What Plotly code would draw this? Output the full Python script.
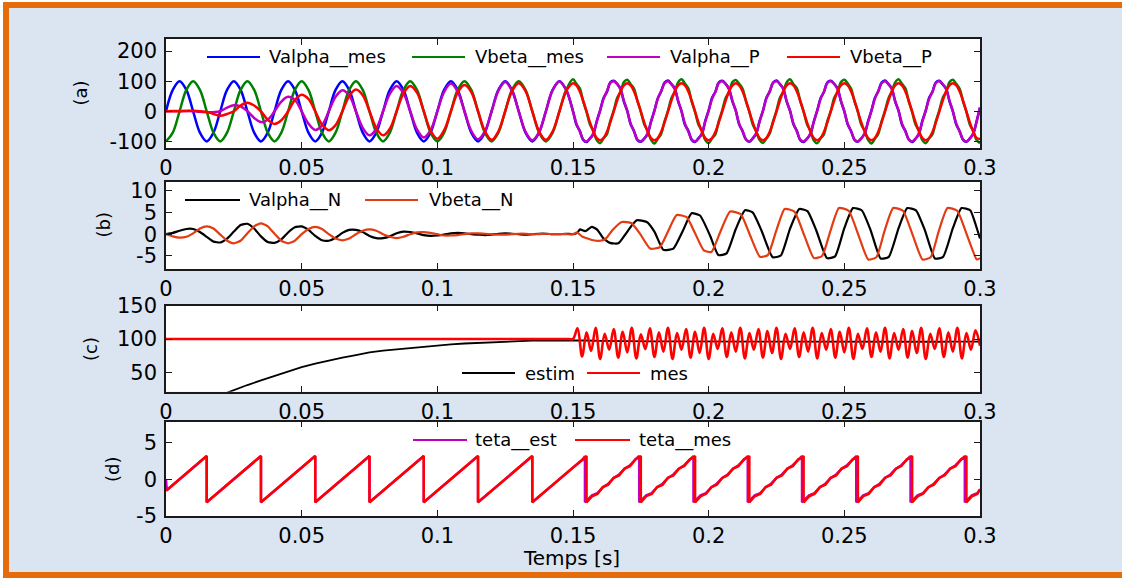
import numpy as np
import plotly.graph_objects as go

W, H = 1122, 578

# ===================== DATA =====================
# ---- panel (a) : 0 .. 0.1475 s every 2.5 ms, then 0.15 .. 0.3 s every 1.25 ms
dt_a1 = 0.0025
dt_a2 = 0.00125
t_a2_start = 0.15

valpha_mes_1 = [0, 71, 100, 71, 0, -71, -100, -71,
                0, 71, 100, 71, 0, -71, -100, -71,
                0, 71, 100, 71, 0, -71, -100, -71,
                0, 71, 100, 71, 0, -71, -100, -71,
                0, 71, 100, 71, 0, -71, -100, -71,
                0, 71, 100, 71, 0, -71, -100, -71,
                0, 71, 100, 71, 0, -71, -100, -71,
                0, 71, 100, 71]
vbeta_mes_1 = [-100, -71, 0, 71, 100, 71, 0, -71,
               -100, -71, 0, 71, 100, 71, 0, -71,
               -100, -71, 0, 71, 100, 71, 0, -71,
               -100, -71, 0, 71, 100, 71, 0, -71,
               -100, -71, 0, 71, 100, 71, 0, -71,
               -100, -71, 0, 71, 100, 71, 0, -71,
               -100, -71, 0, 71, 100, 71, 0, -71,
               -100, -71, 0, 71]
valpha_p_1 = [0, 1, 1, 1, 0, -2, -3, -3,
              0, 12, 20, 16, 0, -22, -36, -28,
              0, 32, 48, 38, 0, -41, -62, -47,
              0, 48, 70, 53, 0, -55, -80, -58,
              0, 58, 84, 60, 0, -60, -87, -63,
              0, 64, 92, 65, 0, -65, -93, -67,
              0, 68, 97, 68, 0, -68, -96, -69,
              0, 70, 99, 70]
vbeta_p_1 = [0, 0, 0, 1, 2, 0, -2, -9,
             -15, -9, 0, 19, 28, 19, 0, -28,
             -42, -30, 0, 38, 55, 41, 0, -44,
             -63, -46, 0, 50, 72, 53, 0, -56,
             -80, -58, 0, 59, 84, 62, 0, -64,
             -91, -63, 0, 62, 87, 64, 0, -66,
             -95, -67, 0, 66, 93, 67, 0, -67,
             -95, -67, 0, 67]

valpha_mes_2 = [0, -44, -65, -95, -102, -90, -76, -33, 3, 44, 64, 96, 101, 91, 75, 32,
                1, -43, -66, -96, -101, -91, -75, -34, 2, 43, 66, 95, 102, 90, 76, 33,
                0, -45, -64, -95, -102, -89, -76, -32, 3, 45, 65, 96, 101, 91, 74, 33,
                2, -44, -66, -94, -101, -90, -75, -33, 1, 44, 65, 95, 102, 90, 75, 32,
                1, -43, -65, -96, -102, -91, -76, -34, 2, 43, 64, 96, 101, 91, 76, 33,
                0, -44, -66, -95, -101, -90, -74, -33, 3, 44, 66, 95, 102, 90, 75, 32,
                1, -45, -65, -94, -102, -91, -75, -32, 2, 45, 65, 96, 101, 89, 76, 33,
                0, -44, -66, -95, -101, -90, -75, -33, 12]
vbeta_mes_2 = [106, 91, 76, 33, -2, -44, -64, -96, -106, -90, -76, -32, 2, 44, 64, 97,
               105, 90, 75, 34, -1, -43, -65, -95, -107, -91, -75, -33, 1, 43, 65, 96,
               106, 92, 76, 32, -3, -45, -64, -96, -106, -90, -76, -32, 3, 44, 64, 97,
               104, 91, 75, 33, -2, -44, -66, -95, -105, -91, -74, -33, 2, 45, 65, 96,
               106, 90, 76, 34, -1, -43, -64, -97, -106, -90, -76, -32, 1, 44, 64, 97,
               105, 92, 75, 33, -2, -45, -65, -95, -107, -91, -75, -33, 2, 43, 66, 96,
               106, 91, 76, 32, -3, -44, -64, -96, -106, -90, -76, -32, 3, 44, 64, 97,
               105, 91, 75, 33, -2, -44, -65, -96, -106]
valpha_p_2 = [0, -41, -67, -94, -100, -91, -73, -35, 2, 41, 67, 94, 100, 91, 73, 35,
              1, -42, -66, -94, -100, -91, -74, -35, 1, 42, 67, 93, 100, 90, 73, 35,
              0, -41, -67, -94, -100, -91, -73, -34, 2, 41, 66, 94, 100, 91, 73, 35,
              1, -42, -66, -93, -100, -90, -73, -35, 1, 42, 67, 94, 100, 91, 74, 34,
              1, -41, -67, -94, -100, -91, -73, -35, 2, 41, 66, 94, 100, 91, 73, 35,
              0, -42, -66, -94, -100, -90, -74, -35, 1, 42, 67, 93, 100, 91, 73, 34,
              1, -41, -67, -94, -100, -91, -73, -34, 2, 41, 66, 94, 100, 90, 73, 35,
              0, -41, -67, -94, -100, -91, -73, -35, 12]
vbeta_p_2 = [93, 86, 66, 35, -1, -37, -68, -89, -96, -89, -68, -37, -1, 35, 66, 86,
             93, 86, 66, 35, -1, -37, -68, -89, -96, -89, -68, -37, -1, 35, 66, 86,
             93, 86, 66, 35, -1, -37, -68, -89, -96, -89, -68, -37, -1, 35, 66, 86,
             93, 86, 66, 35, -1, -37, -68, -89, -96, -89, -68, -37, -1, 35, 66, 86,
             93, 86, 66, 35, -1, -37, -68, -89, -96, -89, -68, -37, -1, 35, 66, 86,
             93, 86, 66, 35, -1, -37, -68, -89, -96, -89, -68, -37, -1, 35, 66, 86,
             93, 86, 66, 35, -1, -37, -68, -89, -96, -89, -68, -37, -1, 35, 66, 86,
             93, 86, 66, 35, -1, -37, -68, -89, -92]

# ---- panel (b)
dt_b1 = 0.0025
valpha_n_1 = [0.0, 0.3, 0.8, 1.2, 1.2, 0.5, -0.6, -1.7,
              -1.9, -1.0, 0.6, 2.1, 2.4, 1.3, -0.5, -1.8,
              -2.0, -1.2, 0.4, 1.6, 1.8, 1.0, -0.4, -1.4,
              -1.5, -0.8, 0.3, 1.0, 1.0, 0.5, -0.4, -0.9,
              -0.9, -0.5, 0.2, 0.6, 0.5, 0.2, -0.2, -0.4,
              -0.3, -0.1, 0.2, 0.3, 0.2, 0.0, -0.1, -0.2,
              -0.1, 0.1, 0.2, 0.1, 0.0, -0.1, 0.0, 0.1,
              0.1, 0.0, 0.0, 0.1]
vbeta_n_1 = [0.0, -0.5, -0.8, -0.6, 0.2, 1.3, 1.8, 1.3,
             -0.1, -1.5, -2.1, -1.5, 0.2, 1.8, 2.5, 1.8,
             0.1, -1.5, -2.1, -1.5, 0.0, 1.2, 1.7, 1.2,
             0.0, -1.0, -1.4, -1.0, 0.0, 0.8, 1.1, 0.8,
             0.0, -0.6, -0.9, -0.6, 0.0, 0.4, 0.5, 0.3,
             0.0, -0.3, -0.3, -0.2, 0.0, 0.2, 0.2, 0.1,
             0.0, -0.1, -0.1, 0.0, 0.1, 0.1, 0.0, 0.0,
             0.1, 0.0, 0.0, 0.0]
valpha_n_2_t = [0.150, 0.1515, 0.1526, 0.1545, 0.1569, 0.1590, 0.1610, 0.1636, 0.1667, 0.1690,
                0.1715, 0.1735, 0.1772, 0.1800, 0.1833, 0.1870, 0.1905, 0.1937, 0.1968, 0.2005,
                0.2036, 0.2066, 0.2100, 0.2134, 0.2162, 0.2195, 0.2236, 0.2266, 0.2300, 0.2334,
                0.2364, 0.2397, 0.2436, 0.2466, 0.2500, 0.2532, 0.2564, 0.2597, 0.2634, 0.2664,
                0.2700, 0.2732, 0.2764, 0.2797, 0.2834, 0.2864, 0.2900, 0.2932, 0.2964, 0.2985,
                0.3000]
valpha_n_2 = [0.0, 0.3, 1.1, 0.7, 1.7, 1.0, -0.8, -2.0, -2.1, -0.3,
              1.9, 3.2, 2.8, 0.6, -3.6, -3.3, 0.8, 4.8, 4.3, -0.3,
              -4.8, -4.4, 1.2, 5.5, 5.0, 0.8, -5.3, -4.9, 1.3, 5.8,
              5.3, 0.8, -5.5, -5.1, 1.4, 6.0, 5.5, 0.9, -5.6, -5.2,
              1.4, 6.0, 5.5, 0.9, -5.6, -5.2, 1.4, 6.0, 5.5, 2.0,
              -1.0]
vbeta_n_2_t = [0.150, 0.1515, 0.1535, 0.1555, 0.1575, 0.1600, 0.1620, 0.1645, 0.1680, 0.1716,
               0.1748, 0.1784, 0.1820, 0.1850, 0.1882, 0.1919, 0.1950, 0.1982, 0.2010, 0.2042,
               0.2079, 0.2118, 0.2153, 0.2189, 0.2218, 0.2248, 0.2280, 0.2316, 0.2352, 0.2388,
               0.2418, 0.2448, 0.2480, 0.2516, 0.2552, 0.2588, 0.2618, 0.2648, 0.2680, 0.2716,
               0.2752, 0.2788, 0.2818, 0.2848, 0.2880, 0.2916, 0.2952, 0.2988, 0.3000]
vbeta_n_2 = [0.0, 0.4, -0.6, -1.0, -1.4, -1.5, -1.1, 0.9, 2.8, 2.5,
             0.0, -3.3, -3.0, 0.6, 4.4, 3.9, 0.2, -3.7, -4.1, 0.4,
             5.2, 4.6, -0.3, -5.2, -4.8, 0.6, 5.8, 5.2, -0.2, -5.5,
             -5.0, 0.6, 6.0, 5.4, -0.2, -5.8, -5.3, 0.7, 6.0, 5.4,
             -0.2, -5.8, -5.3, 0.7, 6.0, 5.4, -0.2, -5.8, -5.5]

# ---- panel (c)
estim_t0 = 0.015
dt_estim = 0.005
estim = [8, 16, 24, 31, 38, 45, 52, 58, 63, 68, 72, 76, 80, 82.5, 84.5, 87, 89, 90.5,
         92, 93.3, 94.3, 95.3, 96.2, 97, 97.5, 98, 98.3, 98.5,
         97.8, 97.2, 96.8, 96.6, 96.5, 96.4, 96.5, 96.3, 96.4, 96.2, 96.3, 96.1, 96.2, 96.0, 96.1,
         96.0, 96.1, 95.9, 96.0, 96.0, 95.9, 96.0, 95.9, 96.0, 95.9, 96.0, 95.9, 96.0, 95.9, 96.0]
mes_before_t = [0.0, 0.05, 0.1, 0.1483]
mes_before = [100, 100, 100, 100]
mes_osc_t0 = 0.15
dt_mes_osc = 1.0 / 600.0
mes_osc = [100, 116, 74, 110, 82, 117, 70, 108, 84, 115,
           72, 111, 80, 117, 71, 107, 85, 116, 73, 110,
           81, 117, 70, 109, 84, 115, 72, 111, 79, 117,
           70, 108, 85, 116, 73, 110, 81, 117, 71, 109,
           84, 115, 72, 112, 79, 117, 70, 108, 85, 116,
           73, 110, 81, 117, 71, 109, 84, 115, 72, 111,
           80, 117, 70, 108, 85, 116, 73, 110, 81, 117,
           71, 109, 84, 115, 72, 112, 79, 117, 70, 108,
           85, 116, 73, 110, 81, 117, 71, 109, 84, 113,
           90]

# ---- panel (d)
teta_mes_t = [0.0, 0.015, 0.015, 0.035, 0.035, 0.055, 0.055, 0.075, 0.075, 0.095, 0.095,
              0.115, 0.115, 0.135, 0.135, 0.150, 0.153, 0.155, 0.155,
              0.157, 0.159, 0.161, 0.163, 0.165, 0.167, 0.169, 0.171, 0.173, 0.175, 0.175,
              0.177, 0.179, 0.181, 0.183, 0.185, 0.187, 0.189, 0.191, 0.193, 0.195, 0.195,
              0.197, 0.199, 0.201, 0.203, 0.205, 0.207, 0.209, 0.211, 0.213, 0.215, 0.215,
              0.217, 0.219, 0.221, 0.223, 0.225, 0.227, 0.229, 0.231, 0.233, 0.235, 0.235,
              0.237, 0.239, 0.241, 0.243, 0.245, 0.247, 0.249, 0.251, 0.253, 0.255, 0.255,
              0.257, 0.259, 0.261, 0.263, 0.265, 0.267, 0.269, 0.271, 0.273, 0.275, 0.275,
              0.277, 0.279, 0.281, 0.283, 0.285, 0.287, 0.289, 0.291, 0.293, 0.295, 0.295,
              0.297, 0.299, 0.300]
teta_mes = [-1.57, 3.14, -3.14, 3.14, -3.14, 3.14, -3.14, 3.14, -3.14, 3.14, -3.14,
            3.14, -3.14, 3.14, -3.14, 1.57, 2.55, 3.14, -3.14,
            -2.33, -2.00, -1.08, -0.75, 0.18, 0.51, 1.44, 1.76, 2.69, 3.14, -3.14,
            -2.31, -2.02, -1.06, -0.77, 0.20, 0.49, 1.42, 1.78, 2.67, 3.14, -3.14,
            -2.34, -1.99, -1.09, -0.74, 0.17, 0.52, 1.45, 1.75, 2.70, 3.14, -3.14,
            -2.32, -2.01, -1.07, -0.76, 0.19, 0.50, 1.43, 1.77, 2.68, 3.14, -3.14,
            -2.33, -2.00, -1.08, -0.75, 0.18, 0.51, 1.44, 1.76, 2.69, 3.14, -3.14,
            -2.31, -2.02, -1.06, -0.77, 0.20, 0.49, 1.42, 1.78, 2.67, 3.14, -3.14,
            -2.34, -1.99, -1.09, -0.74, 0.17, 0.52, 1.45, 1.75, 2.70, 3.14, -3.14,
            -2.33, -2.00, -1.45]
teta_est_t = [0.0, 0.0003, 0.015, 0.015, 0.035, 0.035, 0.055, 0.055, 0.075, 0.075, 0.095, 0.095,
              0.115, 0.115, 0.135, 0.135, 0.150, 0.1535, 0.1544, 0.1544,
              0.157, 0.159, 0.161, 0.163, 0.165, 0.167, 0.169, 0.171, 0.173, 0.1744, 0.1744,
              0.177, 0.179, 0.181, 0.183, 0.185, 0.187, 0.189, 0.191, 0.193, 0.1944, 0.1944,
              0.197, 0.199, 0.201, 0.203, 0.205, 0.207, 0.209, 0.211, 0.213, 0.2144, 0.2144,
              0.217, 0.219, 0.221, 0.223, 0.225, 0.227, 0.229, 0.231, 0.233, 0.2344, 0.2344,
              0.237, 0.239, 0.241, 0.243, 0.245, 0.247, 0.249, 0.251, 0.253, 0.2544, 0.2544,
              0.257, 0.259, 0.261, 0.263, 0.265, 0.267, 0.269, 0.271, 0.273, 0.2744, 0.2744,
              0.277, 0.279, 0.281, 0.283, 0.285, 0.287, 0.289, 0.291, 0.293, 0.2944, 0.2944,
              0.297, 0.299, 0.300]
teta_est = [0.0, -1.50, 3.14, -3.14, 3.14, -3.14, 3.14, -3.14, 3.14, -3.14, 3.14, -3.14,
            3.14, -3.14, 3.14, -3.14, 1.57, 2.60, 3.14, -3.14,
            -2.20, -1.90, -1.10, -0.62, 0.16, 0.64, 1.41, 1.89, 2.68, 3.14, -3.14,
            -2.20, -1.90, -1.10, -0.62, 0.16, 0.64, 1.41, 1.89, 2.68, 3.14, -3.14,
            -2.20, -1.90, -1.10, -0.62, 0.16, 0.64, 1.41, 1.89, 2.68, 3.14, -3.14,
            -2.20, -1.90, -1.10, -0.62, 0.16, 0.64, 1.41, 1.89, 2.68, 3.14, -3.14,
            -2.20, -1.90, -1.10, -0.62, 0.16, 0.64, 1.41, 1.89, 2.68, 3.14, -3.14,
            -2.20, -1.90, -1.10, -0.62, 0.16, 0.64, 1.41, 1.89, 2.68, 3.14, -3.14,
            -2.20, -1.90, -1.10, -0.62, 0.16, 0.64, 1.41, 1.89, 2.68, 3.14, -3.14,
            -2.20, -1.90, -1.35]

x_tickvals = [0, 0.05, 0.1, 0.15, 0.2, 0.25, 0.3]
x_ticktext = ["0", "0.05", "0.1", "0.15", "0.2", "0.25", "0.3"]
ya_ticks = [-100, 0, 100, 200]
yb_ticks = [-5, 0, 5, 10]
yc_ticks = [50, 100, 150]
yd_ticks = [-5, 0, 5]

# ===================== STYLE =====================
C_BLUE, C_GREEN, C_MAG, C_RED = "#0000FF", "#008000", "#C000C0", "#FF0000"
C_BLACK, C_ORED = "#000000", "#E33B12"
FONT = "DejaVu Sans"


def two_seg(v1, dt1, v2_t, v2):
    t1 = list(np.arange(len(v1)) * dt1)
    return t1 + list(v2_t), list(v1) + list(v2)


def seg_a(v1, v2):
    t2 = t_a2_start + np.arange(len(v2)) * dt_a2
    return two_seg(v1, dt_a1, t2, v2)


fig = go.Figure()

# panel a
for name, v1, v2, col in [("Valpha__mes", valpha_mes_1, valpha_mes_2, C_BLUE),
                          ("Vbeta__mes", vbeta_mes_1, vbeta_mes_2, C_GREEN),
                          ("Valpha__P", valpha_p_1, valpha_p_2, C_MAG),
                          ("Vbeta__P", vbeta_p_1, vbeta_p_2, C_RED)]:
    x, y = seg_a(v1, v2)
    fig.add_trace(go.Scatter(x=x, y=y, name=name, mode="lines", xaxis="x", yaxis="y",
                             line=dict(color=col, width=2.5, shape="spline", smoothing=1.0)))

# panel b
for name, v1, t2, v2, col in [("Valpha__N", valpha_n_1, valpha_n_2_t, valpha_n_2, C_BLACK),
                              ("Vbeta__N", vbeta_n_1, vbeta_n_2_t, vbeta_n_2, C_ORED)]:
    x, y = two_seg(v1, dt_b1, t2, v2)
    fig.add_trace(go.Scatter(x=x, y=y, name=name, mode="lines", xaxis="x2", yaxis="y2",
                             line=dict(color=col, width=2.2, shape="spline", smoothing=0.5)))

# panel c
t_est = estim_t0 + np.arange(len(estim)) * dt_estim
fig.add_trace(go.Scatter(x=t_est, y=estim, name="estim", mode="lines", xaxis="x3", yaxis="y3",
                         line=dict(color=C_BLACK, width=1.8)))
t_mes = list(mes_before_t) + list(mes_osc_t0 + np.arange(len(mes_osc)) * dt_mes_osc)
fig.add_trace(go.Scatter(x=t_mes, y=list(mes_before) + list(mes_osc), name="mes", mode="lines",
                         xaxis="x3", yaxis="y3",
                         line=dict(color=C_RED, width=2.6, shape="spline", smoothing=1.0)))

# panel d
fig.add_trace(go.Scatter(x=teta_est_t, y=teta_est, name="teta__est", mode="lines",
                         xaxis="x4", yaxis="y4", line=dict(color=C_MAG, width=2.5)))
fig.add_trace(go.Scatter(x=teta_mes_t, y=teta_mes, name="teta__mes", mode="lines",
                         xaxis="x4", yaxis="y4", line=dict(color=C_RED, width=2.5)))


def px(x):
    return x / W


def py(y):
    return 1 - y / H


XL, XR = 166, 980
panels = [  # (top px, bottom px, y range, y ticks)
    (39, 148, [-122, 240], ya_ticks),
    (182, 269, [-8, 12], yb_ticks),
    (305.7, 391.7, [21, 150], yc_ticks),
    (421.7, 516, [-5, 7.8], yd_ticks),
]

axis_common = dict(showline=True, linecolor="#1a1a1a", linewidth=1.5, mirror="ticks",
                   ticks="inside", ticklen=6, tickwidth=1, tickcolor="#1a1a1a",
                   showgrid=False, zeroline=False, automargin=False,
                   tickfont=dict(family=FONT, size=21, color="black"))

layout = dict(width=W, height=H, margin=dict(l=0, r=0, t=0, b=0),
              paper_bgcolor="#DBE5F1", plot_bgcolor="white", showlegend=False)

for i, (top, bot, yr, yt) in enumerate(panels):
    sfx = "" if i == 0 else str(i + 1)
    layout["xaxis" + sfx] = dict(axis_common, domain=[px(XL), px(XR)], anchor="y" + sfx,
                                 range=[0, 0.3], tickvals=x_tickvals, ticktext=x_ticktext)
    layout["yaxis" + sfx] = dict(axis_common, domain=[py(bot), py(top)], anchor="x" + sfx,
                                 range=yr, tickvals=yt, ticktext=[str(v) for v in yt],
                                 ticklabelstandoff=3)

fig.update_layout(**layout)

shapes = []
annotations = []

# frame
shapes.append(dict(type="rect", xref="paper", yref="paper", x0=px(6), x1=px(1140),
                   y0=py(575), y1=py(5), line=dict(color="#E46C0A", width=6),
                   fillcolor="rgba(0,0,0,0)", layer="below"))
shapes.append(dict(type="rect", xref="paper", yref="paper", x0=0, x1=1, y0=py(2), y1=1.01,
                   line=dict(width=0), fillcolor="white", layer="below"))
shapes.append(dict(type="rect", xref="paper", yref="paper", x0=-0.01, x1=px(3), y0=0, y1=1,
                   line=dict(width=0), fillcolor="white", layer="below"))

# custom legends (MATLAB style, no box)
legends = [
    (57, [("Valpha__mes", C_BLUE, 207, 260, 267), ("Vbeta__mes", C_GREEN, 412, 465, 473),
          ("Valpha__P", C_MAG, 607, 660, 668), ("Vbeta__P", C_RED, 787, 840, 848)]),
    (200, [("Valpha__N", C_BLACK, 185, 240, 247), ("Vbeta__N", C_ORED, 365, 418, 427)]),
    (373, [("estim", C_BLACK, 462, 515, 523), ("mes", C_RED, 587, 640, 648)]),
    (440, [("teta__est", C_MAG, 413, 467, 473), ("teta__mes", C_RED, 575, 630, 637)]),
]
for ly, entries in legends:
    for name, col, x0, x1, xt in entries:
        shapes.append(dict(type="line", xref="paper", yref="paper", x0=px(x0), x1=px(x1),
                           y0=py(ly), y1=py(ly), line=dict(color=col, width=2)))
        annotations.append(dict(text=name, xref="paper", yref="paper", x=px(xt), y=py(ly),
                                xanchor="left", yanchor="middle", showarrow=False,
                                font=dict(family=FONT, size=18, color="black")))

# panel labels
for lab, lx, lyy in [("(a)", 80, 93.5), ("(b)", 103, 225.5), ("(c)", 90, 349), ("(d)", 112, 470)]:
    annotations.append(dict(text=lab, xref="paper", yref="paper", x=px(lx), y=py(lyy),
                            xanchor="center", yanchor="middle", textangle=-90, showarrow=False,
                            font=dict(family=FONT, size=18, color="black")))

annotations.append(dict(text="Temps [s]", xref="paper", yref="paper", x=px(571), y=py(558),
                        xanchor="center", yanchor="middle", showarrow=False, borderpad=0,
                        font=dict(family=FONT, size=20, color="black")))

fig.update_layout(shapes=shapes, annotations=annotations)
fig.write_html("out.html")
